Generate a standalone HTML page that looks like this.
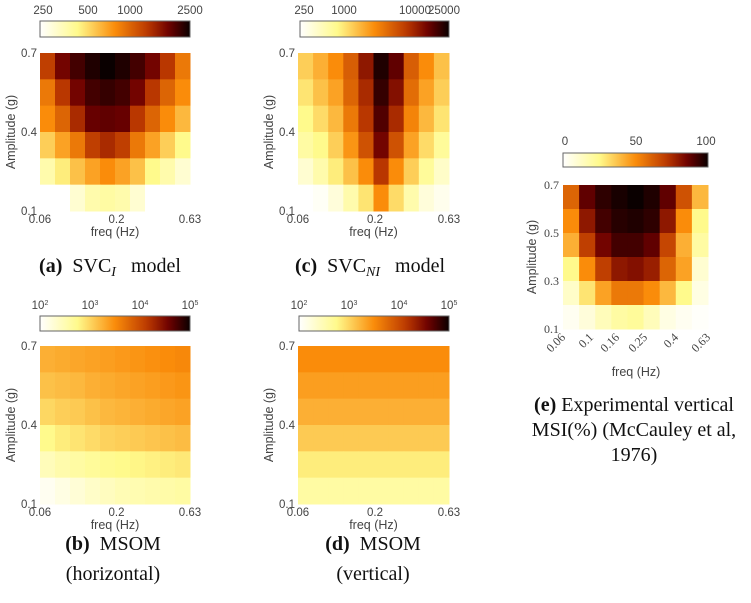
<!DOCTYPE html>
<html><head><meta charset="utf-8"><style>
body{margin:0;background:#fff;width:751px;height:603px;overflow:hidden;font-family:"Liberation Sans",sans-serif}
svg{display:block}
.cap{font-family:"Liberation Serif",serif;font-size:20px;fill:#111;white-space:pre}
.tk{font-size:11.5px;fill:#444}
.lb{font-size:12.5px;fill:#444}
.sf{font-family:"Liberation Serif",serif;font-size:12px;fill:#444}
</style></head><body>
<svg id="s" width="751" height="603" viewBox="0 0 751 603"></svg>
<script>
// data: normalized colour levels (0..1), rows top (0.7 g) to bottom (0.1 g)
const svcIData=[
[.70,.85,.92,.97,1,.97,.92,.85,.72,.55],
[.55,.72,.85,.92,.94,.92,.85,.72,.60,.50],
[.50,.60,.75,.87,.88,.87,.72,.60,.50,.40],
[.35,.45,.55,.70,.75,.70,.55,.45,.35,.25],
[.18,.28,.38,.45,.50,.45,.38,.25,.18,.10],
[0,0,.10,.18,.20,.18,.10,0,0,0]];
const svcNIData=[
[.35,.42,.50,.62,.80,.97,.88,.62,.50,.38],
[.30,.38,.45,.60,.75,.94,.82,.58,.45,.35],
[.25,.32,.40,.55,.72,.90,.75,.52,.40,.30],
[.20,.25,.35,.48,.65,.85,.65,.45,.32,.22],
[.10,.18,.28,.38,.50,.72,.50,.35,.22,.12],
[0,.02,.08,.18,.30,.50,.32,.18,.08,.04]];
const msomHData=[
[.42,.43,.44,.45,.46,.47,.48,.49,.50,.51],
[.38,.39,.40,.42,.43,.44,.45,.46,.47,.48],
[.33,.35,.36,.38,.40,.41,.42,.43,.44,.45],
[.25,.28,.30,.32,.34,.35,.36,.37,.38,.39],
[.15,.18,.20,.22,.24,.25,.26,.27,.28,.29],
[.03,.06,.09,.12,.14,.16,.17,.18,.19,.20]];
const msomVData=[
[.50,.50,.50,.50,.50,.50,.50,.50,.50,.50],
[.46,.46,.46,.46,.46,.46,.46,.46,.46,.46],
[.42,.42,.42,.42,.42,.42,.42,.42,.42,.42],
[.36,.36,.36,.36,.36,.36,.36,.36,.36,.36],
[.28,.28,.28,.28,.28,.28,.28,.28,.28,.28],
[.20,.20,.20,.20,.20,.20,.20,.20,.20,.20]];
const expData=[
[.60,.88,.95,.98,1,.97,.88,.65,.40],
[.50,.80,.92,.96,.97,.95,.80,.50,.25],
[.42,.70,.85,.92,.92,.88,.68,.42,.20],
[.25,.50,.70,.80,.82,.78,.60,.45,.10],
[.12,.30,.45,.55,.55,.50,.40,.25,.06],
[.03,.08,.15,.20,.22,.15,.06,.03,.01]];
const cbA=["250","500","1000","2500"];
const cbC=["250","1000","10000","25000"];
const cbE=["0","50","100"];
const expFreq=["0.06","0.1","0.16","0.25","0.4","0.63"];

const NS="http://www.w3.org/2000/svg",S=document.getElementById('s');
function el(t,a,p){const e=document.createElementNS(NS,t);for(const k in a)e.setAttribute(k,a[k]);(p||S).appendChild(e);return e;}
const stops=[[0,[255,255,255]],[.25,[255,250,140]],[.5,[250,140,10]],[.72,[185,55,0]],[.86,[110,0,0]],[1,[10,0,0]]];
function cmap(t){t=Math.max(0,Math.min(1,t));for(let i=1;i<stops.length;i++){if(t<=stops[i][0]){const a=stops[i-1],b=stops[i],f=(t-a[0])/(b[0]-a[0]);return 'rgb('+a[1].map((v,j)=>Math.round(v+(b[1][j]-v)*f)).join(',')+')';}}return '#000';}
function txt(x,y,s,c,a,nm,p){const t=el('text',Object.assign({x:x,y:y,class:c},a||{}),p);t.textContent=s;return t;}
function colorbar(x,y,w,h,id){
  const g=el('linearGradient',{id:id,x1:0,x2:1,y1:0,y2:0});
  for(let i=0;i<=20;i++)el('stop',{offset:i/20,'stop-color':cmap(i/20)},g);
  const r=el('rect',{x:x,y:y,width:w,height:h,fill:'url(#'+id+')',stroke:'#666','stroke-width':1});
  
}
function heat(data,x0,y0,w,h,nm){
  const g=el('g',{});
  const R=data.length,C=data[0].length,cw=w/C,ch=h/R;
  data.forEach((row,r)=>row.forEach((v,c)=>{const e=el('rect',{x:x0+c*cw,y:y0+r*ch,width:cw+.5,height:ch+.5,fill:cmap(v)},g);}));
}
function panel(data,x0,y0,w,h,nm){
  heat(data,x0,y0,w,h,nm);
  txt(x0-3,y0+4,"0.7","tk",{'text-anchor':'end'},'y-tick');
  txt(x0-3,y0+h/2+4,"0.4","tk",{'text-anchor':'end'},'y-tick');
  txt(x0-3,y0+h+4,"0.1","tk",{'text-anchor':'end'},'y-tick');
  txt(x0,y0+h+12,"0.06","tk",{'text-anchor':'middle'},'x-tick');
  txt(x0+w*0.51,y0+h+12,"0.2","tk",{'text-anchor':'middle'},'x-tick');
  txt(x0+w,y0+h+12,"0.63","tk",{'text-anchor':'middle'},'x-tick');
  txt(x0+w/2,y0+h+25,"freq (Hz)","lb",{'text-anchor':'middle'},'x-axis-title');
  txt(0,0,"Amplitude (g)","lb",{'text-anchor':'middle',transform:'translate('+(x0-25)+','+(y0+h/2)+') rotate(-90)'},'y-axis-title');
}
// (a)
colorbar(40,21,150,16,'g1');
[43,88,130,190].forEach((x,i)=>txt(x,14,cbA[i],"tk",{'text-anchor':'middle'},'colorbar-tick'));
panel(svcIData,40,53,150,158,'heatmap-svc-i');
// (c)
colorbar(300,21,149,16,'g2');
[304,344,415,444].forEach((x,i)=>txt(x,14,cbC[i],"tk",{'text-anchor':'middle'},'colorbar-tick'));
panel(svcNIData,298,53,151,158,'heatmap-svc-ni');
// (b)
colorbar(40,316,150,15,'g3');
[40,90,140,190].forEach((x,i)=>{const t=txt(x,309,"10","tk",{'text-anchor':'middle'},'colorbar-tick');const s=el('tspan',{dy:-4,'font-size':7},t);s.textContent=String(i+2);});
panel(msomHData,40,346,150,158,'heatmap-msom-h');
// (d)
colorbar(299,316,150,15,'g4');
[299,349,399,449].forEach((x,i)=>{const t=txt(x,309,"10","tk",{'text-anchor':'middle'},'colorbar-tick');const s=el('tspan',{dy:-4,'font-size':7},t);s.textContent=String(i+2);});
panel(msomVData,298,346,151,158,'heatmap-msom-v');
// (e)
colorbar(563,153,145,14,'g5');
[565,636,706].forEach((x,i)=>txt(x,145,cbE[i],"tk",{'text-anchor':'middle','font-size':13},'colorbar-tick'));
heat(expData,563,185,145,144,'heatmap-experimental');
["0.7","0.5","0.3","0.1"].forEach((s,i)=>txt(559,189+i*48,s,"sf",{'text-anchor':'end'},'y-tick'));
[563,591,617,645,676,708].forEach((x,i)=>txt(0,0,expFreq[i],"sf",{'text-anchor':'end',transform:'translate('+(x+3)+',338) rotate(-45)'},'x-tick'));
txt(636,376,"freq (Hz)","lb",{'text-anchor':'middle'},'x-axis-title');
txt(0,0,"Amplitude (g)","lb",{'text-anchor':'middle',transform:'translate(536,257) rotate(-90)'},'y-axis-title');
// captions
function cap(x,y,bold,rest,nm,sub,rest2,fs){const t=txt(x,y,"","cap",{'text-anchor':'middle'},nm);if(fs)t.setAttribute('font-size',fs);const b=el('tspan',{'font-weight':'bold'},t);b.textContent=bold;const r=el('tspan',{},t);r.textContent=rest;if(sub){const s=el('tspan',{'font-style':'italic','font-size':14,dy:4},t);s.textContent=sub;const r2=el('tspan',{dy:-4},t);r2.textContent=rest2;}}
cap(110,272,"(a)","  SVC","caption-a","I","   model");
cap(370,272,"(c)","  SVC","caption-c","NI","   model");
cap(113,550,"(b)","  MSOM","caption-b");
txt(113,580,"(horizontal)","cap",{'text-anchor':'middle'},'caption-b-line2');
cap(373,550,"(d)","  MSOM","caption-d");
txt(373,580,"(vertical)","cap",{'text-anchor':'middle'},'caption-d-line2');
cap(634,411,"(e)"," Experimental vertical","caption-e",null,null,19.5);
txt(634,436,"MSI(%) (McCauley et al,","cap",{'text-anchor':'middle','font-size':19.5},'caption-e-line2');
txt(634,461,"1976)","cap",{'text-anchor':'middle','font-size':19.5},'caption-e-line3');
</script>
</body></html>
